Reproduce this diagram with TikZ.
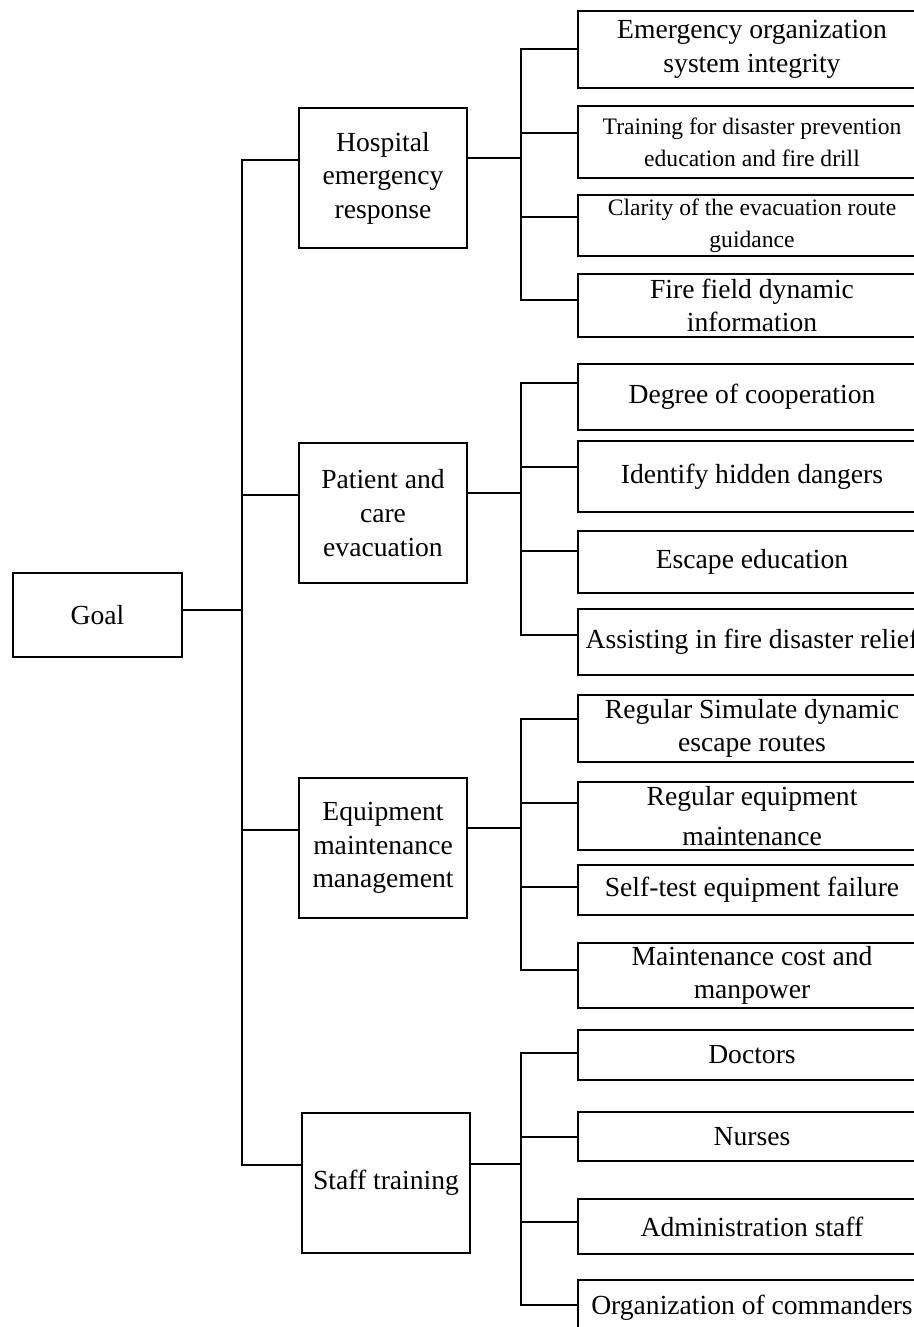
\documentclass[tikz,border=0pt]{standalone}
\usepackage{fontspec}
\setmainfont{Liberation Serif}

\begin{document}
\begin{tikzpicture}[
  x=0.5pt, y=-0.5pt,
  line width=1pt,
  box_node/.style={draw, rectangle, inner sep=0pt, align=center, font=\fontsize{13.8}{16.8}\selectfont},
  mid_box/.style={box_node, minimum width=84pt, minimum height=70pt},
  leaf_box/.style={box_node, minimum width=174pt},
  small_text/.style={font=\fontsize{11.8}{16}\selectfont},
]
\useasboundingbox (0,0) rectangle (914,1327);
\clip (0,0) rectangle (914,1327);

\draw (12,572) node (goal) [box_node, below right, minimum width=84.5pt, minimum height=42pt] {Goal};

\draw (298,107) node (hosp) [mid_box, below right] {Hospital\\emergency\\response};
\draw (298,442) node (pat) [mid_box, below right] {Patient and\\care\\evacuation};
\draw (298,777) node (equip) [mid_box, below right] {Equipment\\maintenance\\management};
\draw (301,1112) node (staff) [mid_box, below right] {Staff training};

\draw (577,10) node (h1) [leaf_box, below right, minimum height=38.5pt] {Emergency organization\\system integrity};
\draw (577,105) node (h2) [leaf_box, small_text, below right, minimum height=36pt] {Training for disaster prevention\\education and fire drill};
\draw (577,194) node (h3) [leaf_box, small_text, below right, minimum height=30.5pt] {Clarity of the evacuation route\\guidance};
\draw (577,273) node (h4) [leaf_box, below right, minimum height=31.5pt] {Fire field dynamic\\information};

\draw (577,363) node (p1) [leaf_box, below right, minimum height=33pt] {Degree of cooperation};
\draw (577,440) node (p2) [leaf_box, below right, minimum height=35.5pt] {Identify hidden dangers};
\draw (577,530) node (p3) [leaf_box, below right, minimum height=31pt] {Escape education};
\draw (577,608) node (p4) [leaf_box, below right, minimum height=33pt] {Assisting in fire disaster relief};

\draw (577,694) node (e1) [leaf_box, below right, minimum height=33.5pt] {Regular Simulate dynamic\\escape routes};
\draw (577,781) node (e2) [leaf_box, below right, minimum height=34pt] {Regular equipment\\[3pt]maintenance};
\draw (577,864) node (e3) [leaf_box, below right, minimum height=25pt] {Self-test equipment failure};
\draw (577,942) node (e4) [leaf_box, below right, minimum height=32.5pt] {Maintenance cost and\\manpower};

\draw (577,1029) node (s1) [leaf_box, below right, minimum height=25pt] {Doctors};
\draw (577,1111) node (s2) [leaf_box, below right, minimum height=24.5pt] {Nurses};
\draw (577,1198) node (s3) [leaf_box, below right, minimum height=27.5pt] {Administration staff};
\draw (577,1279) node (s4) [leaf_box, below right, minimum height=28pt] {Organization of commanders};

\coordinate (goal_j) at (242,610);
\coordinate (hosp_j) at (521,158);
\coordinate (pat_j) at (521,493);
\coordinate (equip_j) at (521,828);
\coordinate (staff_j) at (521,1164);

\draw (goal.east |- goal_j) -- (goal_j);
\foreach \n/\y in {hosp/160, pat/495, equip/830, staff/1165}
  \draw (\n.west |- 0,\y) -| (goal_j);
\foreach \n in {hosp, pat, equip, staff}
  \draw (\n.east |- \n_j) -- (\n_j);

\foreach \n/\y in {h1/49, h2/133, h3/217, h4/300}
  \draw (\n.west |- 0,\y) -| (hosp_j);
\foreach \n/\y in {p1/383, p2/467, p3/551, p4/635}
  \draw (\n.west |- 0,\y) -| (pat_j);
\foreach \n/\y in {e1/719, e2/803, e3/887, e4/970}
  \draw (\n.west |- 0,\y) -| (equip_j);
\foreach \n/\y in {s1/1053, s2/1137, s3/1222, s4/1305}
  \draw (\n.west |- 0,\y) -| (staff_j);
\end{tikzpicture}
\end{document}
